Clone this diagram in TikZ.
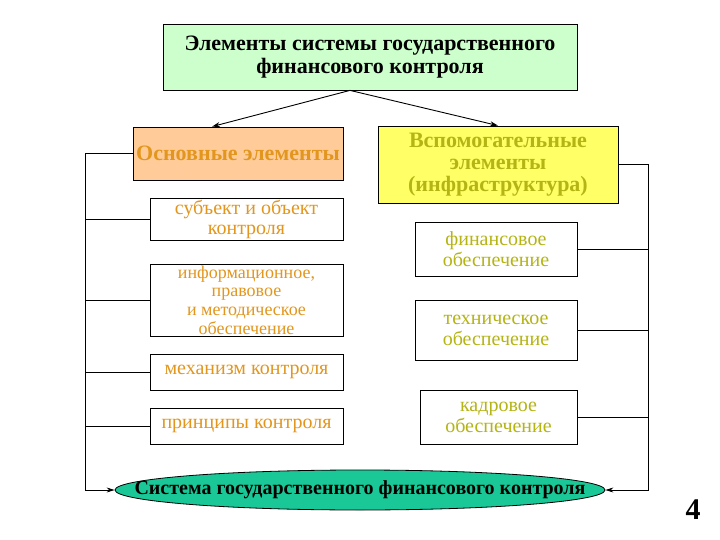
\documentclass[tikz,border=0pt]{standalone}
\usepackage{fontspec}
\setmainfont{Liberation Serif}
\usetikzlibrary{arrows.meta,positioning,shapes.geometric}
\definecolor{titlegreen}{RGB}{204,255,204}
\definecolor{mainfill}{RGB}{255,204,153}
\definecolor{auxfill}{RGB}{255,255,102}
\definecolor{maintext}{RGB}{226,150,30}
\definecolor{auxtext}{RGB}{180,180,20}
\definecolor{sysfill}{RGB}{25,200,150}

\tikzset{
  box/.style={draw=black,line width=0.8pt,align=center,inner sep=0pt},
  leftbox/.style={box,fill=white,text=maintext,font=\fontsize{20}{20}\selectfont,minimum width=193pt},
  rightbox/.style={box,fill=white,text=auxtext,font=\fontsize{20}{21}\selectfont},
  rail/.style={line width=0.9pt},
  tip/.style={-{Stealth[length=8pt,width=5pt]}}
}

\begin{document}
\begin{tikzpicture}[x=1pt,y=-1pt]
      \useasboundingbox (0,0) rectangle (720,540);
      % heads
      \node[box,fill=titlegreen,font=\bfseries\fontsize{22}{23}\selectfont,minimum width=414pt,minimum height=66pt] (title) at (370,57)
        {Элементы системы государственного\\финансового контроля};
      \node[box,fill=mainfill,text=maintext,font=\bfseries\fontsize{22}{23}\selectfont,minimum width=210pt,minimum height=53pt] (main) at (238,153.5)
        {Основные элементы};
      \node[box,fill=auxfill,text=auxtext,font=\bfseries\fontsize{22}{22}\selectfont,minimum width=240pt,minimum height=77pt] (aux) at (498,164.5)
        {Вспомогательные\\элементы\\(инфраструктура)};
      % left column
      \node[leftbox,minimum height=42pt] (subj) at (246.5,219) {субъект и объект\\контроля};
      \node[leftbox,minimum height=72pt,font=\fontsize{18}{18.6}\selectfont] (info) at (246.5,300) {информационное,\\правовое\\и методическое\\обеспечение};
      \node[leftbox,minimum height=36pt] (mech) at (246.5,372) {механизм контроля};
      \node[leftbox,minimum height=36pt] (princ) at (246.5,426) {принципы контроля};
      % right column
      \node[rightbox,minimum width=162pt,minimum height=54pt] (fin) at (496,249) {финансовое\\обеспечение};
      \node[rightbox,minimum width=162pt,minimum height=60pt] (tech) at (496,330) {техническое\\обеспечение};
      \node[rightbox,minimum width=157pt,minimum height=54pt] (staff) at (498.5,417) {кадровое\\обеспечение};
      % result
      \node[ellipse,draw=black,line width=0.8pt,fill=sysfill,inner sep=0pt,minimum width=490pt,minimum height=40pt,
        font=\bfseries\fontsize{20}{20}\selectfont] (sys) at (360,490) {\makebox[0pt]{Система государственного финансового контроля}};
      \node[font=\bfseries\fontsize{30}{30}\selectfont] (page) at (693,510) {4};
      % arrows from the title
      \draw[rail,tip] ([xshift=-20pt]title.south) -- ([xshift=-26pt]main.north);
      \draw[rail,tip] ([xshift=-20pt]title.south) -- (aux.north);
      % rails
      \coordinate (lrail) at (85,490);
      \coordinate (rrail) at (648,490);
      \draw[rail,tip] (main.west) -- (main.west -| lrail) -- (lrail) -- (sys.west);
      \draw[rail,tip] (aux.east) -- (aux.east -| rrail) -- (rrail) -- (sys.east);
      \foreach \n in {subj,info,mech,princ} \draw[rail] (\n.west) -- (\n.west -| lrail);
      \foreach \n in {fin,tech,staff} \draw[rail] (\n.east) -- (\n.east -| rrail);
\end{tikzpicture}
\end{document}
